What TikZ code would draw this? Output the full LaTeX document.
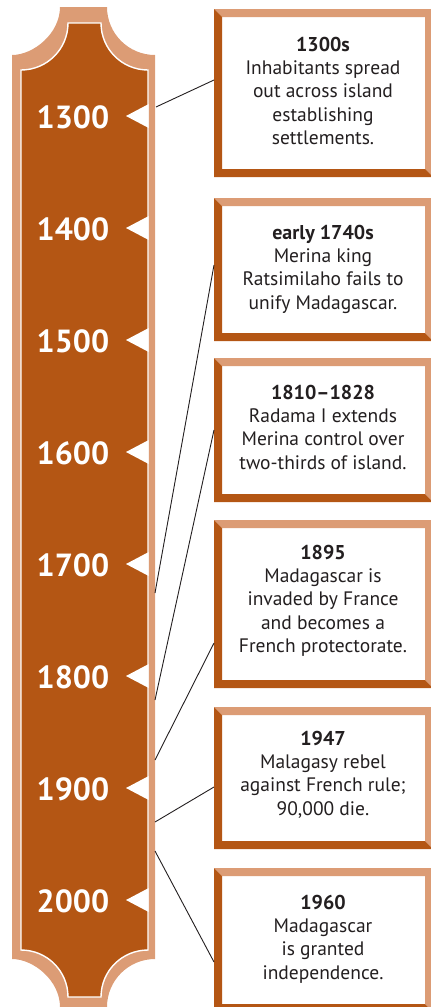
\documentclass[tikz,border=0pt]{standalone}
\usepackage{fontspec}
\setmainfont{PT Sans}
\definecolor{rust}{HTML}{B45614}
\definecolor{tanc}{HTML}{DC9C75}
\definecolor{ink}{HTML}{231F20}
\newcommand\frbox[3]{%
  \fill[white] (214,#2) rectangle (433,#3);
  \fill[tanc] (214,#2) -- (433,#2) -- (433,#3) -- (425,{#3-8}) -- (425,{#2+8}) -- (222,{#2+8}) -- cycle;
  \fill[rust] (214,#2) -- (222,{#2+8}) -- (222,{#3-8}) -- (425,{#3-8}) -- (433,#3) -- (214,#3) -- cycle;
}
\newcommand\evt[4]{%
  \node[ttl] (#1t) at (323,#2) {#3};
  \foreach \ln [count=\i] in {#4} \node[bodytxt] (#1l\i) at (323,{#2+23.4*\i}) {\ln};
}
\begin{document}
\begin{tikzpicture}[x=1pt,y=-1pt,
  ttl/.style={anchor=base,inner sep=0pt,font=\fontsize{20}{23}\selectfont\bfseries,text=ink},
  bodytxt/.style={anchor=base,inner sep=0pt,font=\fontsize{19.5}{23}\selectfont,text=ink},
  yearlbl/.style={inner sep=0pt,font=\fontsize{32}{36}\selectfont\bfseries,text=white},
  conn/.style={draw=ink,line width=0.9pt}]
\useasboundingbox (0,0) rectangle (431,1007);
% timeline bar
\fill[tanc] (60,7) -- (107,7) .. controls (107,33.5) and (128.5,55) .. (155,55)
  -- (155,959) .. controls (128.5,959) and (107,980.5) .. (107,1007)
  -- (60,1007) .. controls (60,980.5) and (33.5,959) .. (12,959)
  -- (12,55) .. controls (33.5,55) and (60,33.5) .. (60,7) -- cycle;
\filldraw[fill=rust,draw=white,line width=1.4pt] (68,23) -- (101,23) .. controls (101,49) and (122,70) .. (148,70)
  -- (148,950) .. controls (122,950) and (101,971) .. (101,997)
  -- (68,997) .. controls (68,971) and (47,950) .. (21,950)
  -- (21,70) .. controls (47,70) and (68,49) .. (68,23) -- cycle;
\foreach \yr [count=\i from 0] in {1300,1400,1500,1600,1700,1800,1900,2000}{
  \node[yearlbl] (y\yr) at (73,{117+112*\i}) {\yr};
  \fill[white] (148.7,{104+112*\i}) -- (126,{116+112*\i}) -- (148.7,{128+112*\i}) -- cycle;
}
% boxes
\frbox{b1}{9}{177}
\frbox{b2}{198}{341}
\frbox{b3}{358}{502}
\frbox{b4}{520}{688}
\frbox{b5}{707}{849}
\frbox{b6}{868}{1012}
\evt{e1}{51}{1300s}{Inhabitants spread, out across island, establishing, settlements.}
\evt{e2}{239}{early 1740s}{Merina king, Ratsimilaho fails to, unify Madagascar.}
\evt{e3}{399}{1810\textendash 1828}{Radama I extends, Merina control over, two-thirds of island.}
\evt{e4}{559}{1895}{Madagascar is, invaded by France, and becomes a, French protectorate.}
\evt{e5}{745}{1947}{Malagasy rebel, against French rule;, {90,000 die.}}
\evt{e6}{909}{1960}{Madagascar, is granted, independence.}
% connector endpoints
\coordinate (p1) at (156,107); \coordinate (q1) at (214,80);
\coordinate (p2) at (155,593); \coordinate (q2) at (214,265);
\coordinate (p3) at (155,700); \coordinate (q3) at (214,430);
\coordinate (p4) at (155,760); \coordinate (q4) at (214,643);
\coordinate (p5) at (155,822); \coordinate (q5) at (214,787);
\coordinate (p6) at (155,851); \coordinate (q6) at (214,962);
\foreach \k in {1,...,6} \draw[conn] (p\k) -- (q\k);
\end{tikzpicture}
\end{document}
